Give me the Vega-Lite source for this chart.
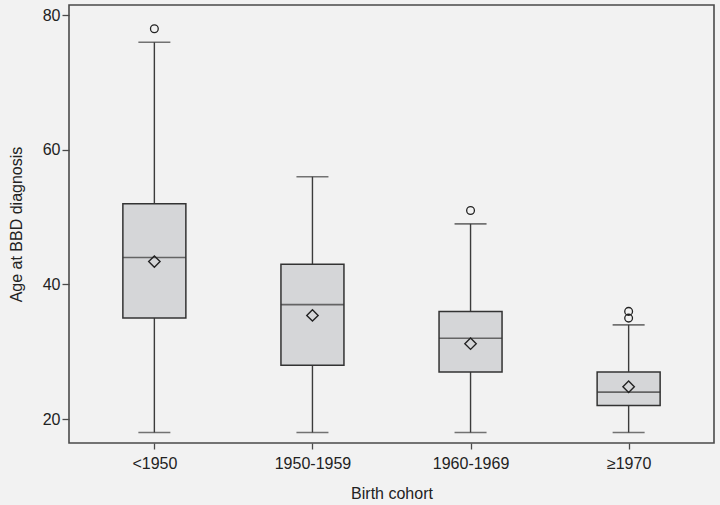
{
  "$schema": "https://vega.github.io/schema/vega-lite/v6.json",
  "autosize": "none",
  "width": 645,
  "height": 438,
  "padding": {"left": 69, "top": 5, "right": 6, "bottom": 62},
  "background": "#f2f2f2",
  "config": {
    "view": {"stroke": "#4a4a4a", "strokeWidth": 1.6, "fill": "#f2f2f2"},
    "font": "Liberation Sans",
    "axis": {
      "labelFont": "Liberation Sans", "titleFont": "Liberation Sans",
      "labelFontSize": 16, "titleFontSize": 16, "titleFontWeight": "normal",
      "labelColor": "#222", "titleColor": "#222",
      "tickColor": "#4a4a4a", "tickWidth": 1.3, "domain": false, "grid": false
    }
  },
  "datasets": {
    "boxes": [
      {"cohort": "<1950", "lo": 18, "q1": 35, "med": 44, "q3": 52, "hi": 76, "mean": 43.4},
      {"cohort": "1950-1959", "lo": 18, "q1": 28, "med": 37, "q3": 43, "hi": 56, "mean": 35.4},
      {"cohort": "1960-1969", "lo": 18, "q1": 27, "med": 32, "q3": 36, "hi": 49, "mean": 31.2},
      {"cohort": "≥1970", "lo": 18, "q1": 22, "med": 24, "q3": 27, "hi": 34, "mean": 24.8}
    ],
    "outliers": [
      {"cohort": "<1950", "age": 78},
      {"cohort": "1960-1969", "age": 51},
      {"cohort": "≥1970", "age": 36},
      {"cohort": "≥1970", "age": 35}
    ]
  },
  "encoding": {
    "x": {
      "field": "cohort", "type": "nominal",
      "sort": ["<1950", "1950-1959", "1960-1969", "≥1970"],
      "scale": {"type": "point", "padding": 0.54},
      "axis": {"title": "Birth cohort", "labelAngle": 0, "tickSize": 6, "labelPadding": 6, "titlePadding": 14}
    }
  },
  "layer": [
    {
      "data": {"name": "boxes"},
      "mark": {"type": "rule", "color": "#3c3c3c", "strokeWidth": 1.4},
      "encoding": {
        "y": {"field": "lo", "type": "quantitative",
          "scale": {"domain": [16.44, 81.53], "nice": false, "zero": false},
          "axis": {"title": "Age at BBD diagnosis", "values": [20, 40, 60, 80], "tickSize": 7, "labelPadding": 2, "titlePadding": 18}},
        "y2": {"field": "hi"}
      }
    },
    {
      "data": {"name": "boxes"},
      "mark": {"type": "bar", "size": 63, "fill": "#d5d6d8", "stroke": "#333", "strokeWidth": 1.5},
      "encoding": {
        "y": {"field": "q1", "type": "quantitative"},
        "y2": {"field": "q3"}
      }
    },
    {
      "data": {"name": "boxes"},
      "mark": {"type": "tick", "size": 63, "thickness": 1.6, "color": "#333"},
      "encoding": {"y": {"field": "med", "type": "quantitative"}}
    },
    {
      "data": {"name": "boxes"},
      "mark": {"type": "tick", "size": 32, "thickness": 1.6, "color": "#3c3c3c"},
      "encoding": {"y": {"field": "lo", "type": "quantitative"}}
    },
    {
      "data": {"name": "boxes"},
      "mark": {"type": "tick", "size": 32, "thickness": 1.6, "color": "#3c3c3c"},
      "encoding": {"y": {"field": "hi", "type": "quantitative"}}
    },
    {
      "data": {"name": "boxes"},
      "mark": {"type": "point", "shape": "diamond", "size": 130, "filled": false, "stroke": "#222", "strokeWidth": 1.4, "opacity": 1},
      "encoding": {"y": {"field": "mean", "type": "quantitative"}}
    },
    {
      "data": {"name": "outliers"},
      "mark": {"type": "point", "shape": "circle", "size": 60, "filled": false, "stroke": "#222", "strokeWidth": 1.3, "opacity": 1},
      "encoding": {"y": {"field": "age", "type": "quantitative"}}
    }
  ]
}
